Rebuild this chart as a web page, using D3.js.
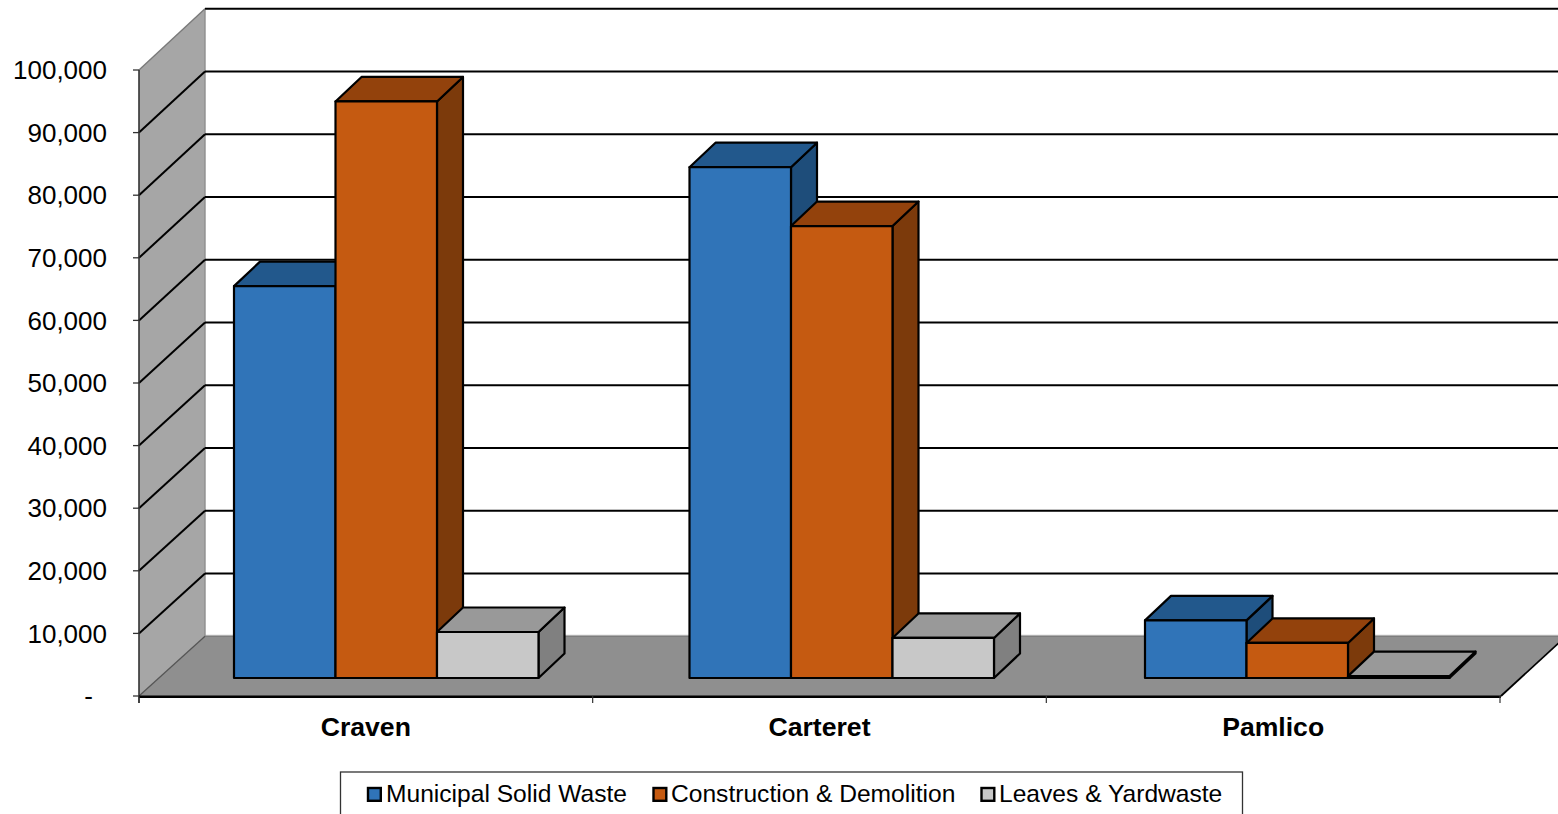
<!DOCTYPE html>
<html><head><meta charset="utf-8">
<script src="https://cdn.jsdelivr.net/npm/d3@7"></script>
<style>html,body{margin:0;padding:0;background:#fff;overflow:hidden}svg{display:block}text{font-family:"Liberation Sans",Arial,sans-serif;fill:#000}</style>
</head><body><svg id="c" width="1558" height="814"></svg>
<script>
const categories = ["Craven","Carteret","Pamlico"];
const seriesNames = ["Municipal Solid Waste","Construction & Demolition","Leaves & Yardwaste"];
const municipal = [62600,81600,9200];
const construction = [92100,72200,5600];
const leaves = [7350,6400,300];
const yTicks = [0,10000,20000,30000,40000,50000,60000,70000,80000,90000,100000];
const seriesColors = [
  {front:"#3074b8",top:"#22588c",side:"#1e4d7a"},
  {front:"#c55a11",top:"#93420c",side:"#7c3a0b"},
  {front:"#c8c8c8",top:"#999999",side:"#808080"}];

const svg = d3.select("#c");
const y = d3.scaleLinear().domain([0,100000]).range([696,70]);       // front plane
const yBack = d3.scaleLinear().domain([0,100000]).range([636.3,8.7]); // back wall
const x = d3.scaleBand().domain(categories).range([139,1500]);        // axis slots
const xBar = d3.scaleBand().domain(categories).range([234,234+3*455.5]); // bar groups
const backX = 205, floorRight = 1501, floorRightBack = 1566;
const barDX=26, barDY=-24.5;      // bar depth
const baseLift=18;                // bars stand this far behind the front edge
const barW=101.5;
const fmt = d3.format(",");
const pts = a => a.map(p=>p.join(",")).join(" ");

// faint halo behind back wall edges
svg.append("line").attr("x1",backX).attr("x2",1558).attr("y1",yBack(0)-1).attr("y2",yBack(0)-1).attr("stroke","#e2e2e2").attr("stroke-width",1.5);
// floor
svg.append("polygon").attr("points",pts([[139,y(0)],[backX,yBack(0)],[floorRightBack,yBack(0)],[floorRight,y(0)]]))
  .attr("fill","#8f8f8f");
svg.append("line").attr("x1",backX).attr("x2",1558).attr("y1",yBack(0)).attr("y2",yBack(0)).attr("stroke","#7d7d7d").attr("stroke-width",1.4);
// wall
svg.append("polygon").attr("points",pts([[139,y(0)],[backX,yBack(0)],[backX,yBack(100000)],[139,y(100000)]]))
  .attr("fill","#a6a6a6");
svg.append("line").attr("x1",backX).attr("x2",backX).attr("y1",yBack(0)).attr("y2",yBack(100000)).attr("stroke","#8f8f8f").attr("stroke-width",1.4);
// gridlines
yTicks.forEach(t=>{
  const yy=y(t), yb=yBack(t);
  if(t>0){
    svg.append("line").attr("x1",backX).attr("x2",1558).attr("y1",yb).attr("y2",yb)
       .attr("stroke","#000").attr("stroke-width",2);
    svg.append("line").attr("x1",139).attr("x2",backX).attr("y1",yy).attr("y2",yb)
       .attr("stroke",t===100000?"#7a7a7a":"#000").attr("stroke-width",t===100000?1.4:2);
  }
  svg.append("line").attr("x1",133).attr("x2",139).attr("y1",yy).attr("y2",yy).attr("stroke","#333").attr("stroke-width",1.3);
  svg.append("text").attr("x",t===0?93:107).attr("y",yy).attr("dy","0.35em").attr("text-anchor","end")
     .attr("font-size",26).text(t===0?"-":fmt(t));
});
// axes
svg.append("line").attr("x1",139).attr("x2",backX).attr("y1",y(0)).attr("y2",yBack(0)).attr("stroke","#555").attr("stroke-width",1.3);
svg.append("line").attr("x1",139).attr("x2",139).attr("y1",y(100000)).attr("y2",703).attr("stroke","#333").attr("stroke-width",1.6);
svg.append("line").attr("x1",139).attr("x2",floorRight).attr("y1",y(0)+.7).attr("y2",y(0)+.7).attr("stroke","#000").attr("stroke-width",2.4);
svg.append("line").attr("x1",floorRight).attr("x2",floorRightBack).attr("y1",y(0)).attr("y2",yBack(0)).attr("stroke","#000").attr("stroke-width",1.8);
categories.concat([null]).forEach(c=>{
  const xx = c?x(c):x.range()[1];
  svg.append("line").attr("x1",xx).attr("x2",xx).attr("y1",y(0)).attr("y2",703).attr("stroke","#333").attr("stroke-width",1.2);
});
// bars
const allSeries=[municipal,construction,leaves];
const stepY = y(0)-y(1);
categories.forEach((c,ci)=>{
  allSeries.forEach((vals,si)=>{
    const col=seriesColors[si];
    const xl=xBar(c)+si*barW, xr=xl+barW;
    const yb=y(0)-baseLift, yt=yb-vals[ci]*stepY;
    const g=svg.append("g").attr("stroke","#000").attr("stroke-width",2.2).attr("stroke-linejoin","round");
    g.append("polygon").attr("points",pts([[xr,yb],[xr+barDX,yb+barDY],[xr+barDX,yt+barDY],[xr,yt]])).attr("fill",col.side);
    g.append("polygon").attr("points",pts([[xl,yt],[xl+barDX,yt+barDY],[xr+barDX,yt+barDY],[xr,yt]])).attr("fill",col.top);
    g.append("rect").attr("x",xl).attr("y",yt).attr("width",barW).attr("height",yb-yt).attr("fill",col.front);
  });
  svg.append("text").attr("x",x(c)+x.bandwidth()/2).attr("y",736).attr("text-anchor","middle")
     .attr("font-size",26.6).attr("font-weight","bold").text(c);
});
// legend
svg.append("rect").attr("x",340.5).attr("y",772).attr("width",902).attr("height",60)
  .attr("fill","#fff").attr("stroke","#333").attr("stroke-width",1.3);
const legendX=[368,653.5,981.5];
const legendTextX=[386,671,999];
seriesNames.forEach((n,i)=>{
  svg.append("rect").attr("x",legendX[i]).attr("y",788).attr("width",12.8).attr("height",12.8)
    .attr("fill",seriesColors[i].front).attr("stroke","#000").attr("stroke-width",2.4);
  svg.append("text").attr("x",legendTextX[i]).attr("y",802).attr("font-size",24.6).text(n);
});
</script></body></html>
